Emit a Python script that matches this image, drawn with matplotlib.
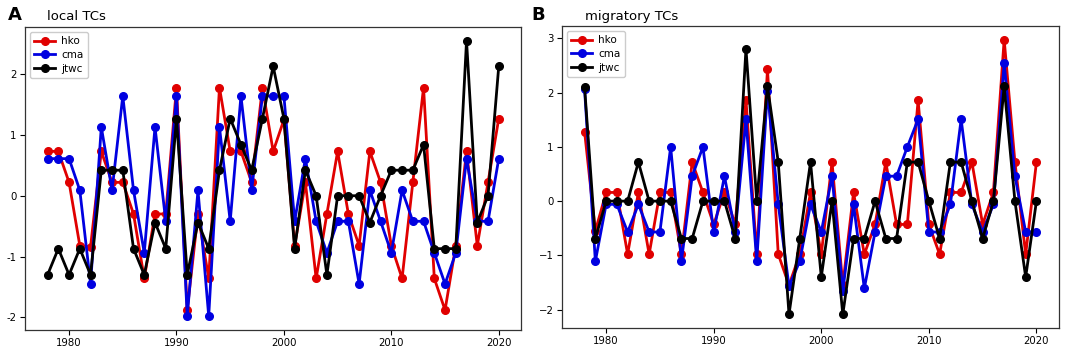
import matplotlib
matplotlib.use("Agg")
import matplotlib.pyplot as plt
from matplotlib.ticker import FuncFormatter

years = list(range(1978, 2021))

# Panel A: local TCs
local_hko = [0.73, 0.73, 0.22, -0.82, -0.84, 0.73, 0.22, 0.22, -0.30, -1.36,
             -0.30, -0.30, 1.78, -1.88, -0.30, -1.36, 1.78, 0.73, 0.73, 0.22,
             1.78, 0.73, 1.25, -0.82, 0.22, -1.36, -0.30, 0.73, -0.30, -0.82,
             0.73, 0.22, -0.82, -1.36, 0.22, 1.78, -1.36, -1.88, -0.82, 0.73,
             -0.82, 0.22, 1.27]
local_cma = [0.61, 0.61, 0.61, 0.09, -1.45, 1.13, 0.09, 1.64, 0.09, -0.94,
             1.13, -0.42, 1.64, -1.98, 0.09, -1.98, 1.13, -0.42, 1.64, 0.09,
             1.64, 1.64, 1.64, -0.42, 0.61, -0.42, -0.94, -0.42, -0.42, -1.45,
             0.09, -0.42, -0.94, 0.09, -0.42, -0.42, -0.94, -1.45, -0.94, 0.61,
             -0.42, -0.42, 0.61]
local_jtwc = [-1.30, -0.87, -1.30, -0.87, -1.30, 0.42, 0.42, 0.42, -0.87, -1.30,
              -0.44, -0.87, 1.27, -1.30, -0.44, -0.87, 0.42, 1.27, 0.84, 0.42,
              1.27, 2.13, 1.27, -0.87, 0.42, 0.00, -1.30, 0.00, 0.00, 0.00,
              -0.44, 0.00, 0.42, 0.42, 0.42, 0.84, -0.87, -0.87, -0.87, 2.55,
              -0.44, 0.00, 2.13]

# Panel B: migratory TCs
mig_hko = [1.28, -0.55, 0.16, 0.16, -0.98, 0.16, -0.98, 0.16, 0.16, -0.98,
           0.72, 0.16, -0.43, 0.16, -0.43, 1.87, -0.98, 2.43, -0.98, -1.55,
           -0.98, 0.16, -0.98, 0.72, -1.55, 0.16, -0.98, -0.43, 0.72, -0.43,
           -0.43, 1.86, -0.43, -0.98, 0.16, 0.16, 0.72, -0.43, 0.16, 2.98,
           0.72, -0.98, 0.72]
mig_cma = [2.06, -1.11, -0.06, -0.06, -0.57, -0.06, -0.57, -0.57, 1.00, -1.11,
           0.46, 1.00, -0.57, 0.46, -0.57, 1.51, -1.11, 2.04, -0.06, -1.57,
           -1.11, -0.06, -0.57, 0.46, -1.66, -0.06, -1.61, -0.57, 0.46, 0.46,
           1.00, 1.51, -0.57, -0.57, -0.06, 1.51, -0.06, -0.57, -0.06, 2.55,
           0.46, -0.57, -0.57]
mig_jtwc = [2.10, -0.69, 0.00, 0.00, 0.00, 0.72, 0.00, 0.00, 0.00, -0.69,
            -0.69, 0.00, 0.00, 0.00, -0.69, 2.81, 0.00, 2.12, 0.72, -2.09,
            -0.69, 0.72, -1.40, 0.00, -2.09, -0.69, -0.69, 0.00, -0.69, -0.69,
            0.72, 0.72, 0.00, -0.69, 0.72, 0.72, 0.00, -0.69, 0.00, 2.12,
            0.00, -1.40, 0.00]

labels = ["hko", "cma", "jtwc"]
colors = ["#e00000", "#0000e0", "#000000"]
xticks = [1980, 1990, 2000, 2010, 2020]

fig = plt.figure(figsize=(10.65, 3.54), dpi=100)
axA = fig.add_axes([0.0235, 0.068, 0.466, 0.856])
axB = fig.add_axes([0.5277, 0.073, 0.4667, 0.854])

panels = [
    (axA, [local_hko, local_cma, local_jtwc], "local TCs", "A"),
    (axB, [mig_hko, mig_cma, mig_jtwc], "migratory TCs", "B"),
]

for ax, series, title, letter in panels:
    for vals, lab, c in zip(series, labels, colors):
        ax.plot(years, vals, '-o', color=c, lw=2.0, ms=5.5, label=lab)
    ax.set_xticks(xticks)
    ax.tick_params(labelsize=7.3, length=3.5, width=0.8, pad=2.5)
    for s in ax.spines.values():
        s.set_linewidth(0.9)
        s.set_color("#333333")
    ax.legend(loc="upper left", fontsize=7.5, handlelength=2.0,
              borderpad=0.4, labelspacing=0.35, handletextpad=0.6,
              framealpha=1.0, edgecolor="#cccccc", fancybox=True)

axA.set_yticks([-2, -1, 0, 1, 2])
axA.yaxis.set_major_formatter(FuncFormatter(lambda v, p: "%d" % v))
axB.set_yticks([-2, -1, 0, 1, 2, 3])

fig.text(0.0445, 0.952, "local TCs", fontsize=9.5, ha="left", va="center")
fig.text(0.549, 0.952, "migratory TCs", fontsize=9.5, ha="left", va="center")
fig.text(0.007, 0.957, "A", fontsize=13, fontweight="bold", ha="left", va="center")
fig.text(0.499, 0.957, "B", fontsize=13, fontweight="bold", ha="left", va="center")

fig.savefig("out.png", dpi=100)
